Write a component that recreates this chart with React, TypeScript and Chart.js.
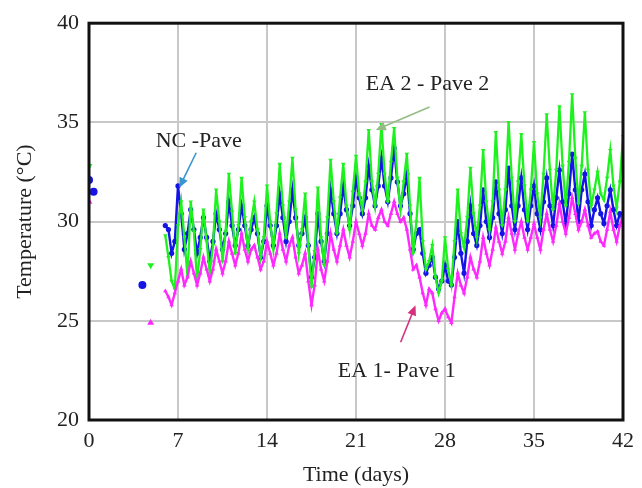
import React, { useEffect, useRef } from 'react';
import { Chart, registerables } from 'chart.js';

Chart.register(...registerables);

// Sampling of the dense records: every 0.25 day starting at day 6
const START_DAY = 6;
const STEP_DAY = 0.25;

const X_MIN = 0;
const X_MAX = 42;
const X_STEP = 7;
const Y_MIN = 20;
const Y_MAX = 40;
const Y_STEP = 5;

// EA 2 - Pave 2 (green)
const ea2Pave2 = [
  29.3, 28.2, 27.0, 26.6,
  29.8, 31.0, 29.2, 27.2,
  31.0, 29.5, 27.0, 28.6,
  30.6, 29.0, 27.4, 28.8,
  31.6, 30.0, 28.0, 29.5,
  32.4, 30.5, 28.4, 29.8,
  32.2, 30.2, 28.6, 30.0,
  31.0, 29.6, 28.2, 29.2,
  31.8, 30.0, 28.6, 30.4,
  32.9, 30.8, 29.2, 31.0,
  33.2, 30.6, 28.4, 29.6,
  31.4, 28.8, 26.7, 28.5,
  31.7, 29.2, 27.8, 30.2,
  33.1, 31.0, 29.4, 31.2,
  32.9, 30.8, 29.6, 31.5,
  33.3, 31.4, 30.6, 32.0,
  34.6, 32.0, 30.8, 32.4,
  34.9, 32.4, 31.0, 33.0,
  34.7, 32.2, 30.6, 32.0,
  33.4, 30.8, 28.4, 30.0,
  32.2, 29.0, 27.6, 28.0,
  28.8, 27.2, 26.4, 27.0,
  29.2, 27.6, 26.8, 29.0,
  31.6, 29.4, 28.7, 30.2,
  32.7, 30.4, 29.2, 30.8,
  33.6, 31.0, 29.6, 31.0,
  34.5, 31.6, 29.8, 31.6,
  35.0, 32.2, 30.0, 32.0,
  34.4, 31.8, 30.0, 31.6,
  34.0, 31.4, 30.2, 32.4,
  35.4, 32.6, 30.6, 32.6,
  35.8, 32.8, 30.8, 33.0,
  36.4, 33.2, 30.9, 32.8,
  35.5, 32.6, 30.8, 31.6,
  32.5, 31.4, 31.1, 32.2,
  33.6, 31.8, 30.7, 32.0,
  34.3,
];

// NC - Pave (blue)
const ncPave = [
  29.8, 29.6, 28.4, 29.0,
  31.8, 30.4, 28.6, 29.4,
  30.6, 29.6, 28.4, 29.2,
  30.2, 29.2, 28.0, 29.0,
  30.4, 29.6, 28.6, 29.4,
  31.0, 29.8, 28.8, 29.6,
  30.8, 29.8, 28.8, 29.6,
  30.2, 29.4, 28.2, 29.0,
  30.8, 29.8, 28.8, 29.8,
  31.4, 30.2, 29.0, 30.0,
  31.6, 30.2, 28.8, 29.4,
  30.2, 28.8, 27.2, 28.2,
  30.4, 29.0, 28.0, 29.4,
  31.6, 30.4, 29.4, 30.4,
  31.8, 30.6, 29.8, 30.8,
  32.2, 31.2, 30.4, 31.2,
  32.8, 31.6, 30.8, 31.8,
  33.2, 31.8, 31.0, 32.2,
  33.7, 32.0, 30.8, 31.4,
  32.4, 30.4, 28.6, 29.4,
  29.6, 28.4, 27.4, 27.8,
  28.2, 27.2, 26.6, 27.0,
  27.8, 27.0, 26.8, 28.2,
  30.0, 28.4, 27.4, 29.0,
  30.8, 29.4, 28.8, 29.8,
  31.6, 30.0, 29.2, 30.2,
  32.0, 30.4, 29.4, 30.6,
  32.7, 30.8, 29.6, 30.8,
  32.2, 30.6, 29.6, 30.8,
  31.8, 30.4, 29.6, 31.0,
  32.2, 30.8, 29.8, 31.2,
  32.6, 31.0, 29.9, 31.4,
  33.4, 31.6, 30.0, 31.6,
  32.4, 31.0, 29.8, 30.6,
  31.2, 30.4, 29.9, 30.8,
  31.6, 30.6, 29.8, 30.4,
  30.2,
];

// EA 1 - Pave 1 (magenta)
const ea1Pave1 = [
  26.5, 26.2, 25.8, 26.4,
  27.0, 27.6, 26.8, 27.2,
  28.0, 27.4, 26.8, 27.4,
  28.2, 27.6, 27.0, 27.6,
  28.6, 28.0, 27.4, 28.0,
  29.0, 28.4, 27.8, 28.4,
  29.4, 28.6, 28.0, 28.6,
  28.8, 28.2, 27.6, 28.0,
  29.0, 28.4, 27.8, 28.4,
  29.4, 28.6, 28.0, 28.8,
  29.2, 28.2, 27.4, 27.8,
  28.4, 27.0, 25.8, 26.8,
  28.6, 27.6, 27.0, 28.0,
  29.4, 28.6, 28.0, 28.8,
  29.6, 28.8, 28.2, 29.0,
  30.0, 29.4, 28.8, 29.4,
  30.4, 29.8, 29.6, 30.2,
  30.6, 30.0, 29.8, 30.4,
  31.0, 30.4, 30.0, 30.2,
  29.6, 28.6, 27.6, 27.8,
  27.2, 26.4, 25.8, 26.6,
  26.4, 25.6, 25.0, 25.4,
  25.6, 25.2, 24.9, 26.2,
  27.4, 26.8, 26.4, 27.2,
  28.2, 27.6, 27.2, 28.0,
  29.2, 28.4, 27.8, 28.6,
  29.7, 29.0, 28.4, 29.0,
  30.2, 29.4, 28.6, 29.4,
  30.0, 29.2, 28.6, 29.2,
  29.9, 29.2, 28.6, 29.6,
  30.4, 29.6, 29.0, 29.8,
  30.9, 30.0, 29.4, 30.2,
  31.2, 30.4, 29.6, 30.0,
  30.6, 29.8, 29.2, 29.4,
  29.5, 29.0, 28.8, 29.6,
  30.5, 29.6, 29.0, 29.8,
  30.3,
];

// Isolated early readings
const earlyDaysEA2 = [0, 4.85];
const earlyEA2 = [32.8, 27.8];
const earlyDaysNC = [0, 0.36, 4.2];
const earlyNC = [32.1, 31.5, 26.8];
const earlyDaysEA1 = [0, 4.85];
const earlyEA1 = [31.0, 24.9];

// Annotation labels (data coordinates)
const labelTexts = ['NC -Pave', 'EA 2 - Pave 2', 'EA 1- Pave 1'];
const labelX = [8.63, 26.62, 24.2];
const labelY = [34.07, 36.93, 22.46];
const arrowFromX = [8.43, 26.78, 24.51];
const arrowFromY = [33.47, 35.78, 23.92];
const arrowToX = [7.1, 22.56, 25.68];
const arrowToY = [31.71, 34.62, 25.78];
const arrowColors = ['#3b95cf', '#93bd84', '#d6307f'];

const GREEN = '#1ef21e';
const BLUE = '#1414e6';
const MAGENTA = '#ff28ff';
const FONT = '"Liberation Serif", "Times New Roman", serif';

const times = ea2Pave2.map((_, i) => START_DAY + i * STEP_DAY);
const toPts = (xs: number[], ys: number[]) => ys.map((v, i) => ({ x: xs[i], y: v }));

const overlayPlugin = {
  id: 'overlay',
  afterDraw(chart: any) {
    const { ctx, chartArea, scales } = chart;
    const xs = scales.x;
    const ys = scales.y;
    ctx.save();
    ctx.strokeStyle = '#111';
    ctx.lineWidth = 3;
    ctx.strokeRect(chartArea.left, chartArea.top, chartArea.right - chartArea.left, chartArea.bottom - chartArea.top);

    ctx.font = `22px ${FONT}`;
    ctx.fillStyle = '#222';
    ctx.textAlign = 'center';
    ctx.textBaseline = 'middle';
    labelTexts.forEach((t, i) => {
      ctx.fillText(t, xs.getPixelForValue(labelX[i]), ys.getPixelForValue(labelY[i]));
    });

    arrowColors.forEach((c, i) => {
      const x1 = xs.getPixelForValue(arrowFromX[i]);
      const y1 = ys.getPixelForValue(arrowFromY[i]);
      const x2 = xs.getPixelForValue(arrowToX[i]);
      const y2 = ys.getPixelForValue(arrowToY[i]);
      const ang = Math.atan2(y2 - y1, x2 - x1);
      const head = 10;
      const hw = 4.5;
      ctx.strokeStyle = c;
      ctx.fillStyle = c;
      ctx.lineWidth = 1.6;
      ctx.beginPath();
      ctx.moveTo(x1, y1);
      ctx.lineTo(x2 - Math.cos(ang) * head * 0.8, y2 - Math.sin(ang) * head * 0.8);
      ctx.stroke();
      ctx.beginPath();
      ctx.moveTo(x2, y2);
      ctx.lineTo(x2 - Math.cos(ang) * head - Math.sin(ang) * hw, y2 - Math.sin(ang) * head + Math.cos(ang) * hw);
      ctx.lineTo(x2 - Math.cos(ang) * head + Math.sin(ang) * hw, y2 - Math.sin(ang) * head - Math.cos(ang) * hw);
      ctx.closePath();
      ctx.fill();
    });
    ctx.restore();
  },
};

export default function App() {
  const canvasRef = useRef<HTMLCanvasElement | null>(null);

  useEffect(() => {
    if (!canvasRef.current) return;
    const lineDs = (label: string, data: number[], color: string, style: string, rot: number, order: number, bw: number) => ({
      label,
      data: toPts(times, data),
      borderColor: color,
      backgroundColor: color,
      borderWidth: bw,
      pointStyle: style,
      pointRotation: rot,
      pointRadius: 2.6,
      pointBorderWidth: 0,
      tension: 0,
      order,
    });
    const earlyDs = (label: string, xs: number[], ys: number[], color: string, style: string, rot: number, order: number) => ({
      label,
      data: toPts(xs, ys),
      showLine: false,
      borderColor: color,
      backgroundColor: color,
      pointStyle: style,
      pointRotation: rot,
      pointRadius: 4,
      pointBorderWidth: 0,
      order,
    });

    const chart = new Chart(canvasRef.current, {
      type: 'line',
      data: {
        datasets: [
          lineDs('EA 1- Pave 1', ea1Pave1, MAGENTA, 'triangle', 0, 0, 2.4),
          lineDs('EA 2 - Pave 2', ea2Pave2, GREEN, 'triangle', 180, 1, 2.3),
          lineDs('NC -Pave', ncPave, BLUE, 'circle', 0, 2, 2.4),
          earlyDs('EA 1 early', earlyDaysEA1, earlyEA1, MAGENTA, 'triangle', 0, 0),
          earlyDs('EA 2 early', earlyDaysEA2, earlyEA2, GREEN, 'triangle', 180, 1),
          earlyDs('NC early', earlyDaysNC, earlyNC, BLUE, 'circle', 0, 2),
        ] as any,
      },
      options: {
        animation: false,
        responsive: true,
        maintainAspectRatio: false,
        layout: { padding: { top: 22, right: 15, left: 0, bottom: 0 } },
        plugins: { legend: { display: false }, tooltip: { enabled: false } },
        scales: {
          x: {
            type: 'linear',
            min: X_MIN,
            max: X_MAX,
            afterFit: (s: any) => { s.height = 68; },
            afterBuildTicks: (s: any) => {
              const t = [];
              for (let v = X_MIN; v <= X_MAX; v += X_STEP) t.push({ value: v });
              s.ticks = t;
            },
            grid: { color: '#c8c8c8', lineWidth: 2, drawTicks: false },
            border: { display: false },
            ticks: { color: '#222', font: { family: FONT, size: 22 }, padding: 8, maxRotation: 0 },
            title: { display: true, text: 'Time (days)', color: '#222', font: { family: FONT, size: 22 }, padding: { top: 1, bottom: 0 } },
          },
          y: {
            type: 'linear',
            min: Y_MIN,
            max: Y_MAX,
            afterFit: (s: any) => { s.width = 89; },
            ticks: { stepSize: Y_STEP, color: '#222', font: { family: FONT, size: 22 }, padding: 10 },
            grid: { color: '#c8c8c8', lineWidth: 2, drawTicks: false },
            border: { display: false },
            title: { display: true, text: 'Temperature (°C)', color: '#222', font: { family: FONT, size: 22 }, padding: { top: 12, bottom: 0 } },
          },
        },
      } as any,
      plugins: [overlayPlugin],
    });
    return () => chart.destroy();
  }, []);

  return (
    <div style={{ position: 'fixed', left: 0, top: 0, width: 642, height: 488, background: '#fff' }}>
      <canvas ref={canvasRef} />
    </div>
  );
}
